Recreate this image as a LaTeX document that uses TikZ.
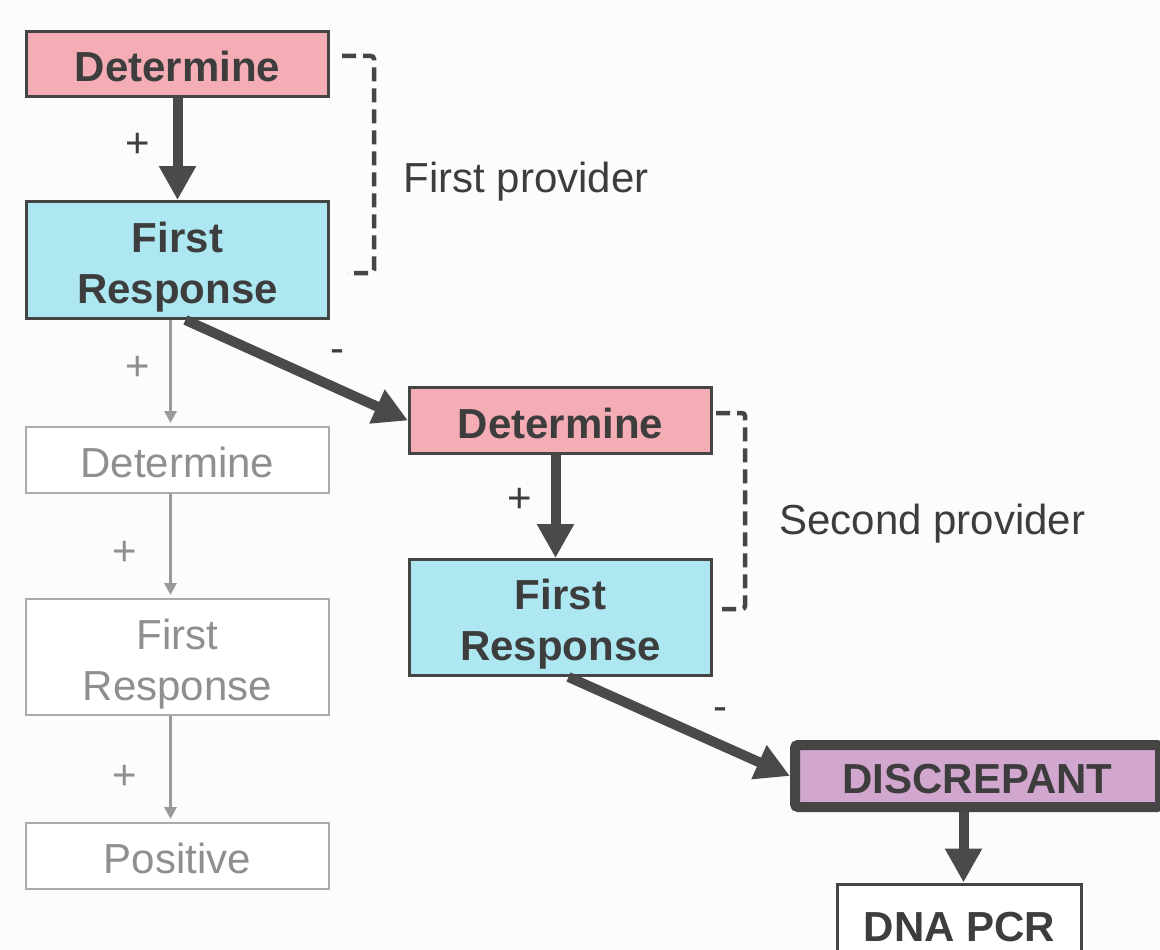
\documentclass[tikz,border=0pt]{standalone}
\usepackage{fontspec}
\setmainfont{Liberation Sans}
\usetikzlibrary{arrows.meta}

\definecolor{paper}{HTML}{FCFCFE}
\definecolor{ink}{HTML}{3D3D3D}
\definecolor{boxline}{HTML}{454545}
\definecolor{arrowc}{HTML}{4A4A4A}
\definecolor{detpink}{HTML}{F4ACB5}
\definecolor{respcyan}{HTML}{ACE7F2}
\definecolor{discpurple}{HTML}{D1A7CF}
\definecolor{ghostline}{HTML}{ABABAB}
\definecolor{ghosttext}{HTML}{8F8F8F}
\definecolor{ghostarrow}{HTML}{9A9A9A}

\begin{document}
\begin{tikzpicture}
  [x=1pt,y=-1pt,
    font=\fontsize{42}{51}\selectfont,
    box/.style={draw=boxline,line width=3pt,minimum width=302pt,align=center,
      text=ink,text height=36pt,font=\fontsize{42}{51}\selectfont\bfseries},
    ghost/.style={draw=ghostline,line width=2pt,fill=white,minimum width=303pt,
      align=center,text height=36pt,text=ghosttext},
    two lines/.style={text height=95pt},
    main arrow/.style={draw=arrowc,line width=10pt,-{Triangle[width=35pt,length=34pt]}},
    ghost arrow/.style={draw=ghostarrow,line width=3pt,shorten >=3pt,
      -{Triangle[width=12pt,length=12pt]}},
    bracket/.style={draw=boxline,line width=4.5pt,dash pattern=on 14pt off 7pt,
      rounded corners=3pt},
    sign/.style={text=ink},
    ghost sign/.style={text=ghosttext}]

  \useasboundingbox (0,0) rectangle (1160,950);
  \clip (0,0) rectangle (1160,950);
  \fill[paper] (0,0) rectangle (1160,950);

  % first provider
  \node[box,fill=detpink,minimum height=65pt] (det1) at (177.5,64) {Determine};
  \node[box,two lines,fill=respcyan,minimum height=117pt] (resp1) at (177.5,260) {First\\Response};

  % positive path (faded)
  \node[ghost,minimum height=66pt] (gdet) at (177.5,460) {Determine};
  \node[ghost,two lines,minimum height=116pt] (gresp) at (177.5,657) {First\\Response};
  \node[ghost,minimum height=66pt] (gpos) at (177.5,856) {Positive};

  % second provider
  \node[box,fill=detpink,minimum height=66pt] (det2) at (560.5,420.5) {Determine};
  \node[box,two lines,fill=respcyan,minimum height=116pt] (resp2) at (560.5,617.5) {First\\Response};

  \node[box,fill=discpurple,line width=10pt,rounded corners=3pt,minimum width=365pt,
    minimum height=62pt] (disc) at (977.5,776) {DISCREPANT};
  \node[box,fill=white,minimum width=244pt,minimum height=80pt] (pcr) at (959.5,924) {DNA PCR};

  \draw[main arrow] (det1) -- (resp1);
  \draw[main arrow] ([xshift=8pt]resp1.south) -- (det2.west);
  \draw[main arrow] ([xshift=-5pt]det2.south) -- ([xshift=-5pt]resp2.north);
  \draw[main arrow] ([xshift=8pt]resp2.south) -- (disc.west);
  \draw[main arrow] ([xshift=-14pt]disc.south) -- ([xshift=4pt]pcr.north);

  \draw[ghost arrow] ([xshift=-7pt]resp1.south) -- ([xshift=-7pt]gdet.north);
  \draw[ghost arrow] ([xshift=-7pt]gdet.south) -- ([xshift=-7pt]gresp.north);
  \draw[ghost arrow] ([xshift=-7pt]gresp.south) -- ([xshift=-7pt]gpos.north);

  \node[sign] (plus1) at (138,145) {+};
  \node[sign] (minus1) at (337,356) {-};
  \node[sign] (plus2) at (520,500) {+};
  \node[sign] (minus2) at (720,714) {-};
  \node[ghost sign] (gplus1) at (138,368) {+};
  \node[ghost sign] (gplus2) at (125,553) {+};
  \node[ghost sign] (gplus3) at (125,777) {+};

  % provider brackets
  \coordinate (b1top) at (342,56);
  \coordinate (b1bot) at (347,273);
  \draw[bracket] (b1top) -- ++(32,0) |- (b1bot);
  \node[anchor=west,text=ink] (prov1) at (400,182) {First provider};

  \coordinate (b2top) at (716,413);
  \coordinate (b2bot) at (718,609);
  \draw[bracket] (b2top) -- ++(29,0) |- (b2bot);
  \node[anchor=west,text=ink] (prov2) at (776,524) {Second provider};

\end{tikzpicture}
\end{document}
